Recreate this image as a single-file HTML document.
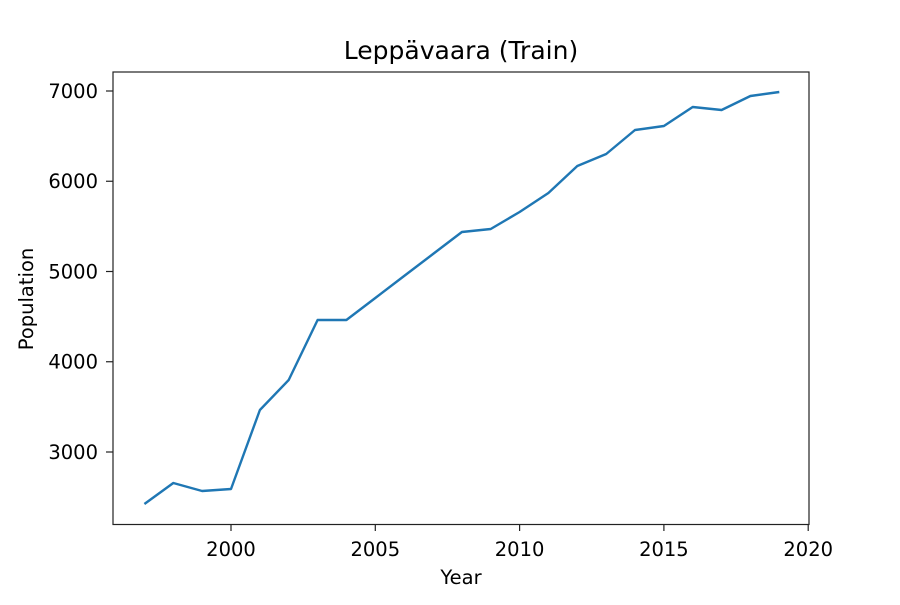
<!DOCTYPE html>
<html><head><meta charset="utf-8"><style>body{margin:0;background:#fff}</style></head><body>
<svg width="900" height="600" xmlns="http://www.w3.org/2000/svg" font-family="DejaVu Sans, Liberation Sans, sans-serif">
<rect width="900" height="600" fill="#fff"/>
<rect x="113" y="72" width="696" height="452.5" fill="none" stroke="#222" stroke-width="1.2"/>
<polyline fill="none" stroke="#1f77b4" stroke-width="2.4" stroke-linejoin="round" points="144.4,504 173.3,483 202.1,491 231,489 259.9,410 288.7,380 317.6,320 346.4,320 375.3,298 404.1,276 433,254 461.9,232 490.7,229 519.6,212 548.4,193 577.3,166 606.2,154 635,130 663.9,126 692.7,107 721.6,110 750.4,96 779.3,92"/>
<g stroke="#222" stroke-width="1.2">
<line x1="231" y1="524" x2="231" y2="531"/><line x1="375.3" y1="524" x2="375.3" y2="531"/><line x1="519.6" y1="524" x2="519.6" y2="531"/><line x1="663.9" y1="524" x2="663.9" y2="531"/><line x1="808.2" y1="524" x2="808.2" y2="531"/>
<line x1="106" y1="91" x2="113" y2="91"/><line x1="106" y1="181.25" x2="113" y2="181.25"/><line x1="106" y1="271.5" x2="113" y2="271.5"/><line x1="106" y1="361.75" x2="113" y2="361.75"/><line x1="106" y1="452" x2="113" y2="452"/>
</g>
<g font-size="19.5" text-anchor="middle">
<text x="231" y="556">2000</text><text x="375.3" y="556">2005</text><text x="519.6" y="556">2010</text><text x="663.9" y="556">2015</text><text x="808.2" y="556">2020</text>
</g>
<g font-size="19.5" text-anchor="end">
<text x="98" y="98">7000</text><text x="98" y="188.2">6000</text><text x="98" y="278.5">5000</text><text x="98" y="368.7">4000</text><text x="98" y="459">3000</text>
</g>
<text x="461" y="584" font-size="19.5" text-anchor="middle">Year</text>
<text transform="translate(33,299) rotate(-90)" font-size="19.5" text-anchor="middle">Population</text>
<text x="461" y="59" font-size="25" text-anchor="middle">Leppävaara (Train)</text>
</svg>
</body></html>
